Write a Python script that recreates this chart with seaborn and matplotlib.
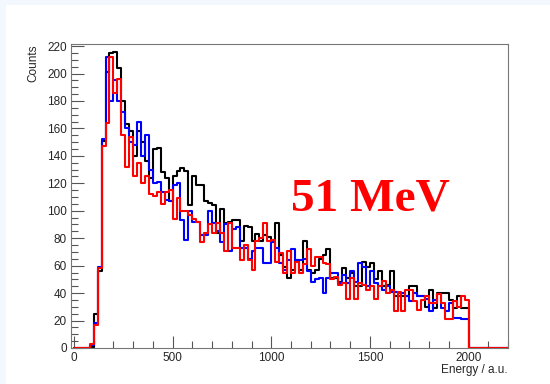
import numpy as np
import pandas as pd
import matplotlib
matplotlib.use("Agg")
import matplotlib.pyplot as plt
from matplotlib.patches import Rectangle
from matplotlib.ticker import MultipleLocator
import seaborn as sns

# ---- data (counts per 20-unit bin, 0..2200) ----
bin_width = 20
x_max = 2200

black_counts = [
    0, 0, 0, 0, 1, 25, 56, 151, 201, 215,
    216, 204, 180, 163, 158, 140, 158, 150, 136, 124,
    145, 146, 128, 124, 107, 125, 129, 131, 129, 104,
    125, 119, 119, 107, 106, 104, 84, 101, 91, 92,
    93, 93, 78, 89, 88, 78, 83, 78, 82, 81,
    78, 91, 68, 59, 51, 57, 64, 57, 78, 57,
    55, 57, 65, 68, 72, 51, 51, 48, 58, 51,
    55, 45, 45, 63, 59, 62, 50, 56, 45, 46,
    56, 38, 38, 38, 38, 45, 45, 38, 38, 30,
    42, 29, 40, 40, 40, 35, 29, 38, 29, 29,
]
blue_counts = [
    0, 0, 0, 0, 2, 18, 59, 152, 212, 180,
    195, 180, 172, 160, 150, 148, 165, 140, 155, 130,
    120, 121, 114, 108, 107, 119, 120, 93, 79, 100,
    92, 92, 82, 82, 100, 91, 85, 77, 90, 71,
    87, 88, 73, 73, 65, 71, 73, 73, 62, 62,
    77, 73, 62, 57, 64, 72, 64, 64, 65, 56,
    48, 50, 51, 40, 51, 55, 55, 47, 53, 47,
    56, 48, 62, 59, 45, 56, 47, 45, 42, 45,
    41, 41, 40, 40, 38, 34, 40, 38, 38, 36,
    27, 35, 39, 29, 27, 33, 22, 22, 21, 21,
]
red_counts = [
    0, 0, 0, 0, 3, 17, 58, 147, 164, 212,
    186, 196, 155, 132, 154, 125, 135, 120, 125, 112,
    111, 114, 105, 114, 115, 94, 109, 100, 100, 97,
    94, 92, 77, 84, 90, 84, 91, 84, 71, 91,
    73, 73, 64, 75, 64, 57, 78, 80, 91, 78,
    79, 63, 69, 55, 71, 55, 63, 55, 61, 72,
    60, 66, 66, 62, 61, 50, 52, 46, 47, 36,
    51, 36, 47, 46, 42, 45, 36, 45, 49, 40,
    42, 27, 41, 27, 42, 42, 34, 28, 35, 38,
    33, 33, 39, 33, 21, 21, 34, 30, 38, 35,
]

x_ticks_major = [0, 500, 1000, 1500, 2000]
y_ticks_major = list(range(0, 221, 20))

n_bins = x_max // bin_width
edges = np.arange(0, x_max + bin_width, bin_width)
centers = edges[:-1] + bin_width / 2

def pad(v):
    return list(v) + [0] * (n_bins - len(v))

df = pd.DataFrame({
    "energy": np.tile(centers, 3),
    "counts": pad(black_counts) + pad(blue_counts) + pad(red_counts),
    "run": ["black"] * n_bins + ["blue"] * n_bins + ["red"] * n_bins,
})

sns.set_style("ticks")
plt.rcParams["font.family"] = ["Liberation Sans", "DejaVu Sans"]

fig = plt.figure(figsize=(5.5, 3.84), dpi=100)
fig.patch.set_facecolor("#f3f8fe")
fig.patches.append(Rectangle((6 / 550, 0), 1, 1 - 5 / 384, transform=fig.transFigure,
                             facecolor="white", edgecolor="none", zorder=-5))

ax = fig.add_axes([71 / 550, 1 - 348 / 384, (508 - 71) / 550, (348 - 44) / 384])
ax.set_zorder(2)

colors = {"black": "#000000", "blue": "#0000ff", "red": "#ff0000"}
for run in ["black", "blue", "red"]:
    sub = df[df["run"] == run]
    sns.histplot(data=sub, x="energy", weights="counts", binwidth=bin_width,
                 binrange=(0, x_max), element="step", fill=False,
                 color=colors[run], linewidth=1.5, ax=ax)

ax.set_xlim(-15, 2200)
ax.set_ylim(0, 221.5)
ax.set_xticks(x_ticks_major)
ax.set_yticks(y_ticks_major)
ax.xaxis.set_minor_locator(MultipleLocator(100))
ax.yaxis.set_minor_locator(MultipleLocator(5))
ax.tick_params(axis="both", which="major", direction="in", length=9, width=0.8,
               color="#555555", labelsize=8.5, pad=3)
ax.tick_params(axis="both", which="minor", direction="in", length=5, width=0.8,
               color="#555555")
ax.tick_params(axis="x", pad=3)
for s in ax.spines.values():
    s.set_color("#777777")
    s.set_linewidth(0.8)

ax.set_xlabel("")
ax.set_ylabel("")
fig.text(508 / 550, 1 - 370 / 384, "Energy / a.u.", ha="right", va="center", fontsize=8.5)
fig.text(33 / 550, 1 - 44 / 384, "Counts", ha="center", va="top", rotation=90, fontsize=8.5)

ax.text(1500, (347 - 210) / 1.368, "51 MeV", color="#ff0000",
        fontsize=34, fontweight="bold", ha="center", va="baseline",
        family=["Liberation Serif", "DejaVu Serif"])

fig.savefig("out.png", dpi=100)
